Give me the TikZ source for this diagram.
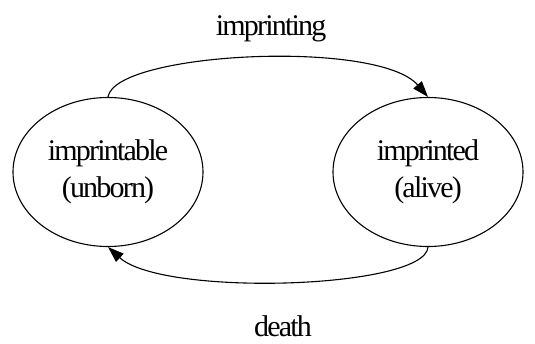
\documentclass[tikz,border=0pt]{standalone}
\usepackage{fontspec}
\setmainfont{Liberation Serif}[LetterSpace=-6]
\usetikzlibrary{shapes.geometric,arrows.meta}
\begin{document}
\begin{tikzpicture}[x=1pt,y=-1pt,
  state/.style={draw,line width=1.1pt,ellipse,minimum width=190pt,minimum height=149pt,inner sep=0pt,align=center,font=\fontsize{30}{37}\selectfont},
  lbl/.style={font=\fontsize{30}{34}\selectfont,anchor=base,inner sep=0pt},
  conn/.style={line width=1.1pt,-{Triangle[length=16pt,width=11pt]}}]
\useasboundingbox (0,0) rectangle (535,343);
\node[state] (L) at (108,172) {imprintable\\(unborn)};
\node[state] (R) at (428,172) {imprinted\\(alive)};
\node[lbl] (t1) at (271,35) {imprinting};
\node[lbl] (t2) at (283,336) {death};
\draw[conn] (L.north) .. controls +(7,-45) and +(-50,-58) .. (R.north);
\draw[conn] (R.south) .. controls +(-3,42) and +(55,50) .. (L.south);
\end{tikzpicture}
\end{document}
